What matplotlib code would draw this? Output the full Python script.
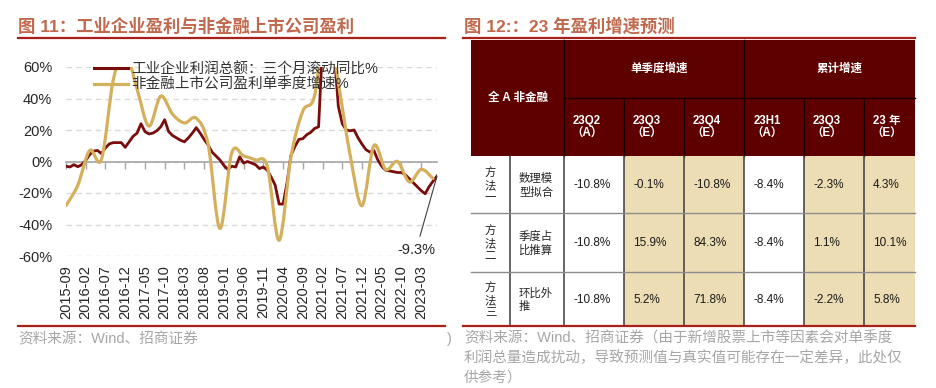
import numpy as np
import pandas as pd
import matplotlib
matplotlib.use('Agg')
import matplotlib.pyplot as plt
import matplotlib.ticker as mticker
from matplotlib.path import Path
from matplotlib.patches import PathPatch, Rectangle
from matplotlib.lines import Line2D

plt.rcParams['font.family'] = ['Liberation Sans', 'Noto Sans CJK SC']

# ---- left chart data ----
months = pd.date_range('2015-09', '2023-07', freq='MS').strftime('%Y-%m').tolist()

# industrial profit, 3-month rolling yoy (%), monthly
industry_3m = [
    -3, -3.5, -2, -3.3, -2, 0.7, 4.4, 6.6, 7, 5, 8.7, 11.2,
    12, 12, 12, 9, 12.5, 16, 18, 24, 19, 17.5, 18, 19.5,
    22, 26.5, 19, 16.5, 15, 13.5, 12.5, 15, 18, 21.5, 18, 14,
    10.5, 6, 3.5, 1, -2.5, -5, -3, -3.5, 3, -1, 0, -1,
    -2, -4.5, -3.5, -5.5, -10, -15, -27, -27, -13.5, 4, 9.5, 14,
    14.5, 17, 18.5, 21, 22, 75, 110, 90, 68, 35, 24, 20,
    19.5, 20, 15, 11, 7.5, 6, 7, 1, -3, -5.5, -6, -6.5,
    -7, -7, -8.5, -11, -13.5, -16, -18.5, -20.5, -16, -12.5, -9.3,
]
# non-financial listed companies, single quarter yoy (%), quarter-end months
listed_months = months[::3]
listed_q = [
    -28, -15, 7, 1.5, 52, 70, 46, 22.5, 41.5, 30, 24.5, 27.5,
    11, -42.5, 5.5, 3.5, 1, -3, -50, 3, 32, 42, 95, 50,
    4, -28, 10, -5, 0, -13, -5, -10.8,
]
series_names = ['工业企业利润总额：三个月滚动同比%', '非金融上市公司盈利单季度增速%']

# ---- right table data ----
col_heads = ['23Q2\n（A）', '23Q3\n（E）', '23Q4\n（E）', '23H1\n（A）', '23Q3\n（E）', '23 年\n（E）']
group_heads = ['单季度增速', '累计增速']
methods = ['方\n法\n一', '方\n法\n二', '方\n法\n三']
method_desc = ['数理模\n型拟合', '季度占\n比推算', '环比外\n推']
forecast = [
    [-10.8, -0.1, -10.8, -8.4, -2.3, 4.3],
    [-10.8, 15.9, 84.3, -8.4, 1.1, 10.1],
    [-10.8, 5.2, 71.8, -8.4, -2.2, 5.8],
]
is_estimate = [False, True, True, False, True, True]

RED = '#7A0C0C'
GOLD = '#D5B05C'
TITLE = '#C0694E'
RULE = '#A8201A'
GREY = '#A6A6A6'
HEAD = '#5E0000'
BEIGE = '#ECDDB5'

W, H = 936, 388
fig = plt.figure(figsize=(W / 100, H / 100), dpi=100)

# overlay in pixel coords for titles, rules, table, notes
ov = fig.add_axes([0, 0, 1, 1])
ov.set_xlim(0, W)
ov.set_ylim(H, 0)
ov.axis('off')

ov.text(18, 26, '图 11：工业企业盈利与非金融上市公司盈利', color=TITLE, fontsize=12.5,
        fontweight='bold', va='center')
ov.text(464, 26, '图 12:：23 年盈利增速预测', color=TITLE, fontsize=12.5,
        fontweight='bold', va='center')
ov.plot([18, 445], [38, 38], color=RULE, lw=1.6)
ov.plot([463, 915], [38, 38], color=RULE, lw=1.6)
ov.plot([18, 445], [326, 326], color=RULE, lw=1.6, zorder=5)
ov.plot([463, 915], [326, 326], color=RULE, lw=1.6, zorder=5)

ov.text(18, 339, '资料来源：Wind、招商证券', color=GREY, fontsize=10.5, va='center')
ov.text(447, 339, ')', color=GREY, fontsize=10.5, va='center')
notes = ['资料来源：Wind、招商证券（由于新增股票上市等因素会对单季度',
         '利润总量造成扰动，导致预测值与真实值可能存在一定差异，此处仅',
         '供参考）']
for k, line in enumerate(notes):
    ov.text(464, 338 + 20 * k, line, color=GREY, fontsize=10.5, va='center')

# ---- table ----
col_x = [471, 510, 564, 624, 684, 744, 804, 864, 915]
row_y = [40, 98, 156, 213, 272, 326]

ov.add_patch(Rectangle((col_x[0], row_y[0]), col_x[-1] - col_x[0], row_y[2] - row_y[0],
                       facecolor=HEAD, edgecolor='none'))
for r in range(len(methods)):
    y0, y1 = row_y[r + 2], row_y[r + 3]
    for c in range(len(col_heads)):
        fc = BEIGE if is_estimate[c] else 'white'
        ov.add_patch(Rectangle((col_x[c + 2], y0), col_x[c + 3] - col_x[c + 2], y1 - y0,
                               facecolor=fc, edgecolor='none'))

# header lines
hl = dict(color='#1A0000', lw=1.0)
ov.plot([col_x[2], col_x[2]], [row_y[0], row_y[2]], **hl)
ov.plot([col_x[5], col_x[5]], [row_y[0], row_y[2]], **hl)
ov.plot([col_x[2], col_x[-1]], [row_y[1], row_y[1]], **hl)
for c in (3, 4, 6, 7):
    ov.plot([col_x[c], col_x[c]], [row_y[1], row_y[2]], **hl)
# body lines
for c in range(1, 8):
    ov.plot([col_x[c], col_x[c]], [row_y[2], row_y[-1]], color='#3C3C3C', lw=1.1)
for r in (3, 4):
    ov.plot([col_x[0], col_x[-1]], [row_y[r], row_y[r]], color='#8C8C8C', lw=1.0)

head_font = dict(color='white', fontsize=8.3, fontweight='bold')
ov.text((col_x[0] + col_x[2]) / 2, row_y[1], '全 A 非金融', ha='center', va='center', **head_font)
ov.text(659, (row_y[0] + row_y[1]) / 2, group_heads[0], ha='center', va='center', **head_font)
ov.text(840, (row_y[0] + row_y[1]) / 2, group_heads[1], ha='center', va='center', **head_font)
for c, lab in enumerate(col_heads):
    ov.text(col_x[c + 2] + 23, (row_y[1] + row_y[2]) / 2 + 0.5, lab, ha='center', va='center',
            multialignment='center', linespacing=1.15, **head_font)

for r in range(len(methods)):
    yc = (row_y[r + 2] + row_y[r + 3]) / 2 + 1
    ov.text((col_x[0] + col_x[1]) / 2, yc, methods[r], ha='center', va='center',
            fontsize=8.2, color='#262626', linespacing=1.2)
    ov.text(col_x[1] + 9, yc, method_desc[r], ha='left', va='center',
            fontsize=8.2, color='#262626', linespacing=1.25)
    for c, v in enumerate(forecast[r]):
        ov.text(col_x[c + 2] + 9, yc, f'{v:.1f}%', ha='left', va='center',
                fontsize=8.5, color='#1A1A1A')

# ---- line chart ----
ax = fig.add_axes([66 / W, 1 - 256 / H, (437 - 66) / W, (256 - 67) / H])
ax.patch.set_alpha(0)
xi = np.arange(len(months))
xq = np.array([months.index(m) for m in listed_months])

ax.plot(xi, industry_3m, color=RED, lw=2.0, zorder=3, solid_joinstyle='round')


def smooth_path(xs, ys):
    pts = np.column_stack([np.asarray(xs, float), np.asarray(ys, float)])
    verts = [pts[0]]
    codes = [Path.MOVETO]
    n = len(pts)
    for k in range(n - 1):
        p0 = pts[k - 1] if k > 0 else pts[k]
        p1, p2 = pts[k], pts[k + 1]
        p3 = pts[k + 2] if k + 2 < n else pts[k + 1]
        verts += [p1 + (p2 - p0) / 6, p2 - (p3 - p1) / 6, p2]
        codes += [Path.CURVE4] * 3
    return Path(verts, codes)


ax.add_patch(PathPatch(smooth_path(xq, listed_q), facecolor='none', edgecolor=GOLD,
                       lw=2.3, zorder=3.1, capstyle='round'))

ax.set_xlim(0, len(months) - 1)
ax.set_ylim(-60, 60)
ax.set_yticks(np.arange(-60, 61, 20))
ax.yaxis.set_major_formatter(mticker.FuncFormatter(lambda v, _: f'{v:.0f}%'))
ax.set_xticks(xi[::5])
ax.set_xticklabels(months[::5])
ax.grid(axis='y', color='#D9D9D9', linestyle=(0, (4, 3)), lw=1)
ax.set_axisbelow(True)

for s in ('left', 'right', 'bottom'):
    ax.spines[s].set_visible(False)
ax.spines['top'].set_position(('data', 0))
ax.spines['top'].set_color('#A6A6A6')
ax.spines['top'].set_linewidth(1.2)
ax.tick_params(axis='x', direction='in', length=5, width=1, color='#A6A6A6',
               top=True, bottom=False, labeltop=False, labelbottom=True,
               pad=6.5, labelrotation=90, labelsize=10.5, labelcolor='#262626')
ax.tick_params(axis='y', length=0, pad=10, labelsize=10.5, labelcolor='#262626')

ax.annotate(f'{industry_3m[-1]:.1f}%', xy=(xi[-1], industry_3m[-1]), xytext=(-21, -74),
            textcoords='offset pixels', ha='center', va='center', fontsize=10.5,
            color='#262626', annotation_clip=False,
            arrowprops=dict(arrowstyle='-', color='#404040', lw=0.8, shrinkA=3, shrinkB=0))

handles = [Line2D([], [], color=RED, lw=2.2), Line2D([], [], color=GOLD, lw=2.3)]
ax.legend(handles, series_names, loc='upper left', bbox_to_anchor=(87, 55),
          bbox_transform=ov.transData, frameon=False, fontsize=10.5, borderpad=0,
          handlelength=2.3, handletextpad=0.2, labelspacing=0.1, labelcolor='#333333')

fig.savefig('out.png', dpi=100)
